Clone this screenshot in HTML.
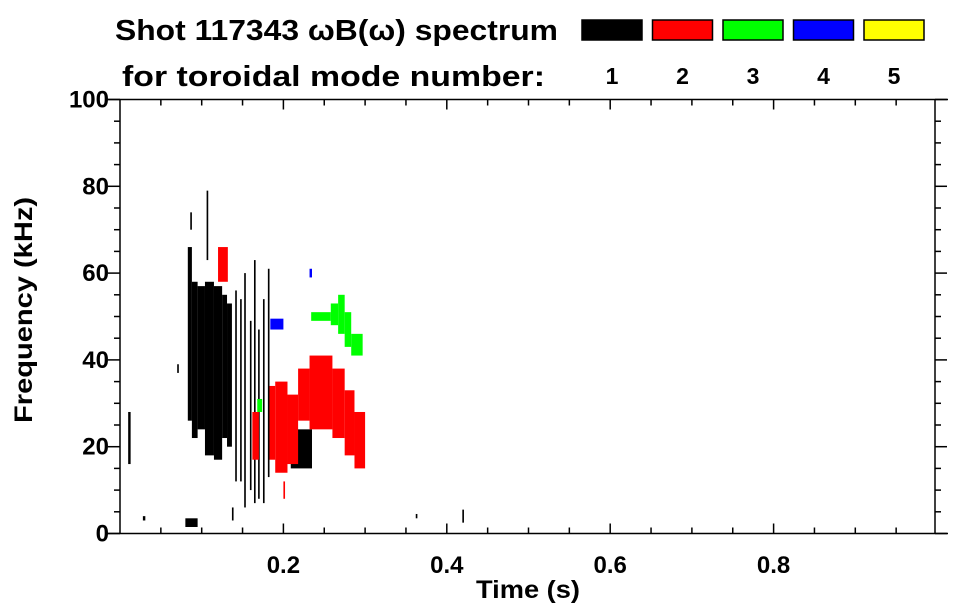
<!DOCTYPE html>
<html><head><meta charset="utf-8"><style>
body{margin:0;background:#fff;}
svg{display:block;font-family:"Liberation Sans",sans-serif;font-weight:bold;}
</style></head><body>
<svg id="c" width="963" height="615" viewBox="0 0 963 615">
<text x="115" y="40" font-size="29" textLength="443" lengthAdjust="spacingAndGlyphs">Shot 117343 ωB(ω) spectrum</text>
<text x="122" y="86" font-size="29" textLength="423" lengthAdjust="spacingAndGlyphs">for toroidal mode number:</text>
<g id="legend"></g>
<g id="marks"></g>
<g id="axes"></g>
<text x="528" y="598" font-size="25" text-anchor="middle" textLength="104" lengthAdjust="spacingAndGlyphs">Time (s)</text>
<text transform="translate(32,310) rotate(-90)" font-size="25" text-anchor="middle" textLength="226" lengthAdjust="spacingAndGlyphs">Frequency (kHz)</text>
</svg>
<script>
const modeLabels=["1","2","3","4","5"];
const modeColors=["#000000","#ff0000","#00ff00","#0000ff","#ffff00"];
const xTicks=[0.2,0.4,0.6,0.8];
const yTicks=[0,20,40,60,80,100];
// segments: time start, time end (s), freq low, freq high (kHz), mode (1-5)
const segT0=[0.083,0.088,0.095,0.104,0.115,0.125,0.131,0.106,0.086,0.141,0.147,0.152,0.159,0.164,0.169,0.175,0.181,0.209,0.010,0.028,0.080,0.137,0.362,0.419,0.070,
 0.120,0.162,0.183,0.190,0.205,0.218,0.232,0.260,0.275,0.287,0.200,
 0.168,0.234,0.258,0.267,0.275,0.283,
 0.184,0.232];
const segT1=[0.088,0.095,0.104,0.115,0.125,0.131,0.137,0.108,0.088,0.143,0.149,0.154,0.161,0.166,0.171,0.177,0.183,0.235,0.013,0.031,0.095,0.139,0.364,0.421,0.072,
 0.132,0.170,0.190,0.205,0.218,0.232,0.260,0.275,0.287,0.300,0.202,
 0.174,0.258,0.267,0.275,0.283,0.297,
 0.200,0.235];
const segF0=[26,22,24,18,17,22,20,63,70,12,12,6,10,7,8,7,13,15,16,3,1.5,3,3.5,2.5,37,
 58,17,17,14,16,26,24,22,18,15,8,
 28,49,48,46,43,41,
 47,59];
const segF1=[66,58,57,58,57,55,53,79,74,56,54,60,49,63,47,54,61,24,28,4,3.5,6,4.5,5.5,39,
 66,28,34,35,32,38,41,38,33,28,12,
 31,51,53,55,51,46,
 49.5,61];
const segMode=[1,1,1,1,1,1,1,1,1,1,1,1,1,1,1,1,1,1,1,1,1,1,1,1,1,
 2,2,2,2,2,2,2,2,2,2,2,
 3,3,3,3,3,3,
 4,4];

const NS="http://www.w3.org/2000/svg";
const X0=120,X1=937,Y0=533.5,Y1=99.5;
const xs=t=>X0+t*(X1-X0);
const ys=f=>Y0-f/100*(Y0-Y1);
function mk(tag,attrs,parent){const e=document.createElementNS(NS,tag);for(const k in attrs)e.setAttribute(k,attrs[k]);parent.appendChild(e);return e;}

const lg=document.getElementById('legend');
modeLabels.forEach((m,i)=>{
  const bx=582+i*70.5;
  const r=mk('rect',{x:bx,y:20,width:60,height:20,fill:modeColors[i],stroke:'#000','stroke-width':1.5},lg);
  
  
  const t=mk('text',{x:bx+30,y:84,'font-size':23,'text-anchor':'middle'},lg);
  t.textContent=m;
  
  
});

const mg=document.getElementById('marks');
segT0.forEach((t0,i)=>{
  const x=xs(t0),w=Math.max(1.5,xs(segT1[i])-x);
  const y=ys(segF1[i]),h=ys(segF0[i])-y;
  const r=mk('rect',{x:x,y:y,width:w,height:h,fill:modeColors[segMode[i]-1]},mg);
  
  
});

const ax=document.getElementById('axes');
const st={stroke:'#000','stroke-width':1.5,fill:'none'};
mk('line',Object.assign({x1:106,y1:Y0,x2:948,y2:Y0},st),ax);
mk('line',Object.assign({x1:106,y1:Y1,x2:948,y2:Y1},st),ax);
mk('line',Object.assign({x1:X0,y1:Y1,x2:X0,y2:Y0},st),ax);
mk('line',Object.assign({x1:935,y1:Y1,x2:935,y2:Y0},st),ax);
for(let k=1;k<20;k++){
  const t=k*0.05,x=xs(t),L=(k%4===0)?10:6;
  mk('line',Object.assign({x1:x,y1:Y0,x2:x,y2:Y0-L},st),ax);
  mk('line',Object.assign({x1:x,y1:Y1,x2:x,y2:Y1+L},st),ax);
}
for(let k=0;k<=20;k++){
  const f=k*5,y=ys(f),L=(k%4===0)?12:6;
  mk('line',Object.assign({x1:X0-L,y1:y,x2:X0,y2:y},st),ax);
  mk('line',Object.assign({x1:935,y1:y,x2:935+L,y2:y},st),ax);
}
xTicks.forEach(v=>{
  const t=mk('text',{x:xs(v),y:573,'font-size':24,'text-anchor':'middle'},ax);
  t.textContent=v.toFixed(1);
  
  
});
yTicks.forEach(v=>{
  const t=mk('text',{x:109,y:ys(v)+8,'font-size':24,'text-anchor':'end'},ax);
  t.textContent=String(v);
  
  
});
</script>
</body></html>
